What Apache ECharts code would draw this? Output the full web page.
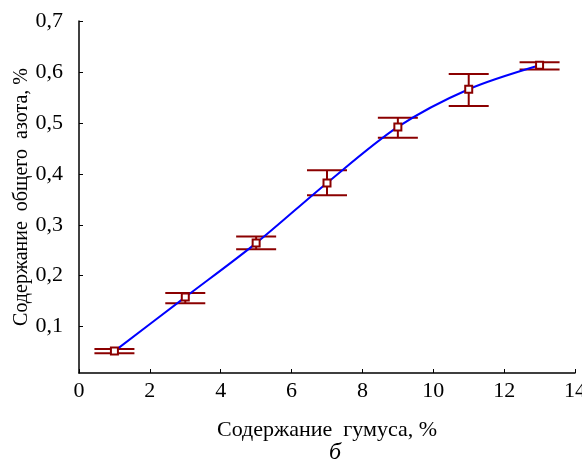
<!DOCTYPE html>
<html>
<head>
<meta charset="utf-8">
<script src="https://cdn.jsdelivr.net/npm/echarts@6/dist/echarts.min.js"></script>
<style>
  html, body { margin: 0; padding: 0; background: #fff; }
  #chart { width: 582px; height: 467px; }
</style>
</head>
<body>
<div id="chart"></div>
<script>
// humus content, %
const humus = [1, 3, 5, 7, 9, 11, 13]
// total nitrogen content, %
const nitrogen = [0.052, 0.158, 0.264, 0.382, 0.492, 0.566, 0.613]
const errLow = [0.048, 0.146, 0.252, 0.358, 0.471, 0.533, 0.605]
const errHigh = [0.056, 0.166, 0.277, 0.407, 0.510, 0.596, 0.619]
const yTicks = [0.1, 0.2, 0.3, 0.4, 0.5, 0.6, 0.7]

const font = 'Liberation Serif'
const darkRed = '#8b0000'

const chart = echarts.init(document.getElementById('chart'))

// error bars drawn with custom series
const errData = humus.map((x, i) => [x, errLow[i], errHigh[i]])

const option = {
    animation: false,
    grid: { left: 79, right: 7, top: 21, bottom: 94, outerBoundsMode: 'none' },
    xAxis: {
        type: 'value',
        min: 0,
        max: 14,
        interval: 2,
        name: 'Содержание  гумуса, %',
        nameLocation: 'middle',
        nameGap: 46,
        nameMoveOverlap: false,
        nameTextStyle: { fontFamily: font, fontSize: 22, color: '#000' },
        axisLine: { lineStyle: { color: '#000', width: 1.5 } },
        axisTick: { inside: true, length: 4, lineStyle: { color: '#000' } },
        axisLabel: { fontFamily: font, fontSize: 22, color: '#000', margin: 7 },
        splitLine: { show: false }
    },
    yAxis: {
        type: 'value',
        min: 0.009,
        max: 0.7,
        name: 'Содержание  общего  азота, %',
        nameLocation: 'middle',
        nameGap: 47,
        nameMoveOverlap: false,
        nameTextStyle: { fontFamily: font, fontSize: 20, color: '#000' },
        axisLine: { show: true, lineStyle: { color: '#000', width: 1.5 } },
        axisTick: { show: true, inside: true, length: 4, customValues: yTicks, lineStyle: { color: '#000' } },
        axisLabel: {
            fontFamily: font, fontSize: 22, color: '#000', margin: 16,
            customValues: yTicks,
            formatter: v => v.toFixed(1).replace('.', ',')
        },
        splitLine: { show: false }
    },
    graphic: [{
        type: 'text',
        left: 329,
        top: 441,
        style: { text: 'б', font: 'italic 24px "Liberation Serif"', fill: '#000' }
    }],
    series: [
        {
            type: 'custom',
            z: 1,
            data: errData,
            renderItem: (params, api) => {
                const x = api.value(0)
                const lo = api.coord([x, api.value(1)])
                const hi = api.coord([x, api.value(2)])
                const hw = 20
                const style = { stroke: darkRed, lineWidth: 2 }
                return {
                    type: 'group',
                    children: [
                        { type: 'line', shape: { x1: lo[0], y1: lo[1], x2: hi[0], y2: hi[1] }, style },
                        { type: 'line', shape: { x1: lo[0] - hw, y1: lo[1], x2: lo[0] + hw, y2: lo[1] }, style },
                        { type: 'line', shape: { x1: hi[0] - hw, y1: hi[1], x2: hi[0] + hw, y2: hi[1] }, style }
                    ]
                }
            }
        },
        {
            type: 'line',
            z: 3,
            data: humus.map((x, i) => [x, nitrogen[i]]),
            smooth: 0.3,
            symbol: 'rect',
            symbolSize: 7,
            lineStyle: { color: '#0000ff', width: 2 },
            itemStyle: { color: '#fff', borderColor: darkRed, borderWidth: 2 }
        }
    ]
}

chart.setOption(option)
</script>
</body>
</html>
